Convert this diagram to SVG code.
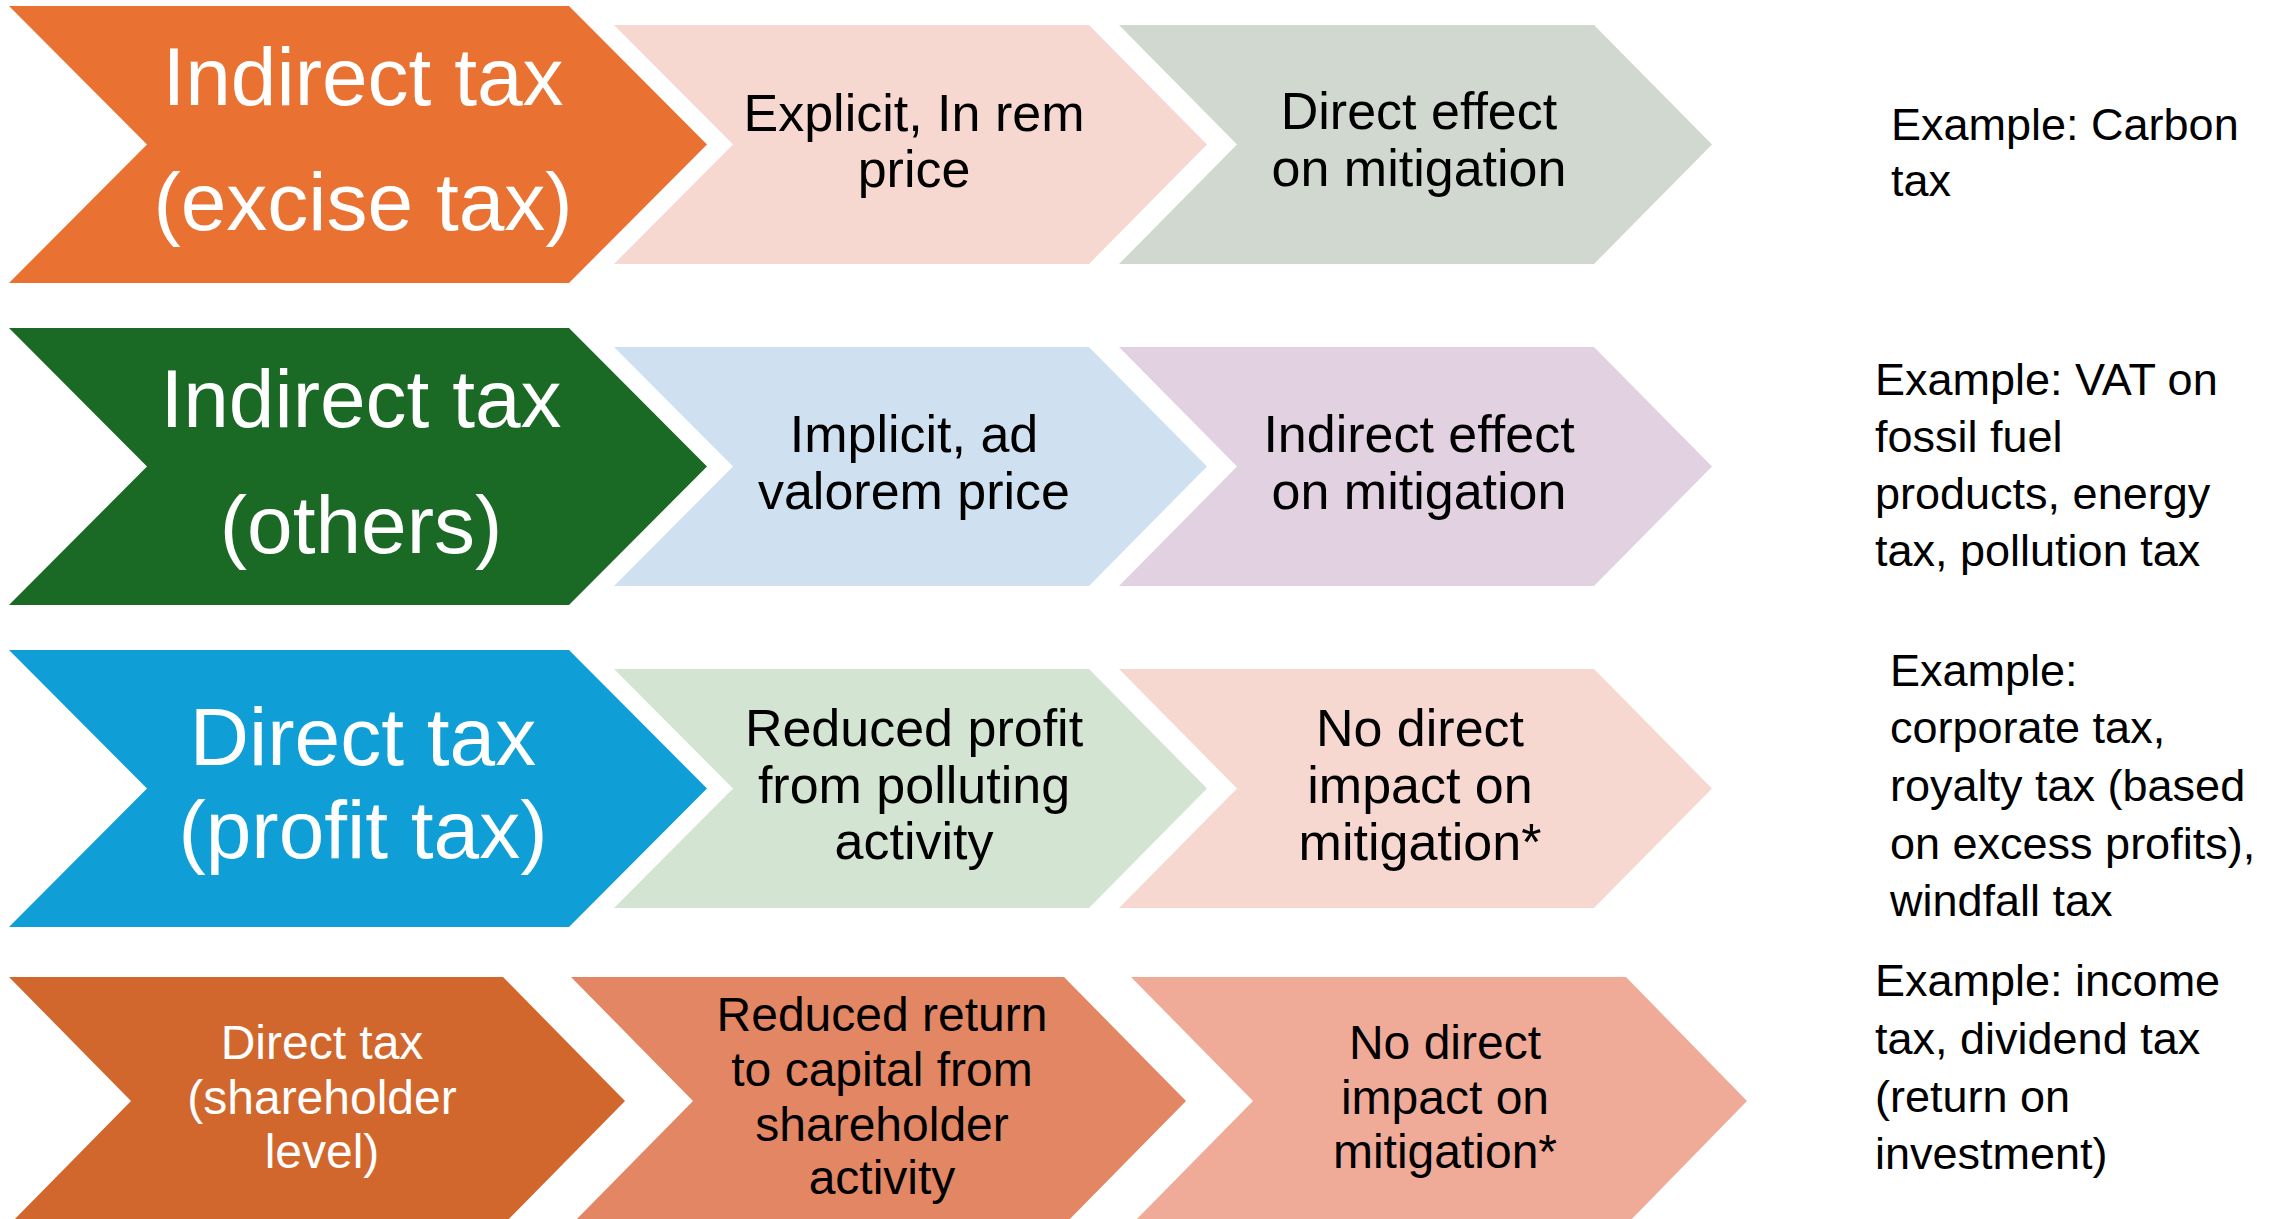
<svg xmlns="http://www.w3.org/2000/svg" width="2287" height="1219" viewBox="0 0 2287 1219">
<style>
text{font-family:"Liberation Sans",Arial,sans-serif;text-anchor:middle}
.big{font-size:82px;fill:#ffffff}
.mid{font-size:52px;fill:#000000}
.sm{font-size:48px;fill:#000000}
.smw{font-size:48px;fill:#ffffff}
.ex{font-size:45px;fill:#000000;text-anchor:start}
</style>
<rect width="2287" height="1219" fill="#ffffff"/>
<g id="connectors"></g>
<g id="row1-type">
<polygon points="9,6 569,6 707,144.5 569,283 9,283 147,144.5" fill="#E97132"/>
<text class="big" x="363" y="105">Indirect tax</text>
<text class="big" x="363" y="230">(excise tax)</text>
</g>
<g id="row1-price">
<polygon points="614,25 1089,25 1207,144.5 1089,264 614,264 733,144.5" fill="#F6D8D1"/>
<text class="mid" x="914" y="131">Explicit, In rem</text>
<text class="mid" x="914" y="187">price</text>
</g>
<g id="row1-effect">
<polygon points="1119,25 1594,25 1712,144.5 1594,264 1119,264 1237,144.5" fill="#D0D8D0"/>
<text class="mid" x="1419" y="129">Direct effect</text>
<text class="mid" x="1419" y="186">on mitigation</text>
</g>
<g id="row1-example">
<text class="ex" x="1891" y="140">Example: Carbon</text>
<text class="ex" x="1891" y="196">tax</text>
</g>
<g id="row2-type">
<polygon points="9,328 569,328 707,466.5 569,605 9,605 147,466.5" fill="#1A6A25"/>
<text class="big" x="361" y="427">Indirect tax</text>
<text class="big" x="361" y="553">(others)</text>
</g>
<g id="row2-price">
<polygon points="614,347 1089,347 1207,466.5 1089,586 614,586 733,466.5" fill="#CFE1F0"/>
<text class="mid" x="914" y="452">Implicit, ad</text>
<text class="mid" x="914" y="509">valorem price</text>
</g>
<g id="row2-effect">
<polygon points="1119,347 1594,347 1712,466.5 1594,586 1119,586 1237,466.5" fill="#E1D1E1"/>
<text class="mid" x="1419" y="452">Indirect effect</text>
<text class="mid" x="1419" y="509">on mitigation</text>
</g>
<g id="row2-example">
<text class="ex" x="1875" y="395">Example: VAT on</text>
<text class="ex" x="1875" y="452">fossil fuel</text>
<text class="ex" x="1875" y="509">products, energy</text>
<text class="ex" x="1875" y="566">tax, pollution tax</text>
</g>
<g id="row3-type">
<polygon points="9,650 569,650 707,788.5 569,927 9,927 147,788.5" fill="#0F9ED5"/>
<text class="big" x="363" y="765">Direct tax</text>
<text class="big" x="363" y="858">(profit tax)</text>
</g>
<g id="row3-price">
<polygon points="614,669 1089,669 1207,788.5 1089,908 614,908 733,788.5" fill="#D3E4D3"/>
<text class="mid" x="914" y="746">Reduced profit</text>
<text class="mid" x="914" y="803">from polluting</text>
<text class="mid" x="914" y="859">activity</text>
</g>
<g id="row3-effect">
<polygon points="1119,669 1594,669 1712,788.5 1594,908 1119,908 1237,788.5" fill="#F6D8D1"/>
<text class="mid" x="1420" y="746">No direct</text>
<text class="mid" x="1420" y="803">impact on</text>
<text class="mid" x="1420" y="860">mitigation*</text>
</g>
<g id="row3-example">
<text class="ex" x="1890" y="686">Example:</text>
<text class="ex" x="1890" y="743">corporate tax,</text>
<text class="ex" x="1890" y="801">royalty tax (based</text>
<text class="ex" x="1890" y="859">on excess profits),</text>
<text class="ex" x="1890" y="916">windfall tax</text>
</g>
<g id="row4-type">
<polygon points="9,977 503,977 625,1101 503,1225 9,1225 131,1101" fill="#D2672E"/>
<text class="smw" x="322" y="1059">Direct tax</text>
<text class="smw" x="322" y="1114">(shareholder</text>
<text class="smw" x="322" y="1168">level)</text>
</g>
<g id="row4-return">
<polygon points="571,977 1064,977 1186,1101 1064,1225 571,1225 693,1101" fill="#E38663"/>
<text class="sm" x="882" y="1031">Reduced return</text>
<text class="sm" x="882" y="1086">to capital from</text>
<text class="sm" x="882" y="1141">shareholder</text>
<text class="sm" x="882" y="1194">activity</text>
</g>
<g id="row4-effect">
<polygon points="1131,977 1626,977 1747,1101 1626,1225 1131,1225 1253,1101" fill="#EFAB98"/>
<text class="sm" x="1445" y="1059">No direct</text>
<text class="sm" x="1445" y="1114">impact on</text>
<text class="sm" x="1445" y="1168">mitigation*</text>
</g>
<g id="row4-example">
<text class="ex" x="1875" y="996">Example: income</text>
<text class="ex" x="1875" y="1054">tax, dividend tax</text>
<text class="ex" x="1875" y="1112">(return on</text>
<text class="ex" x="1875" y="1169">investment)</text>
</g>
</svg>
